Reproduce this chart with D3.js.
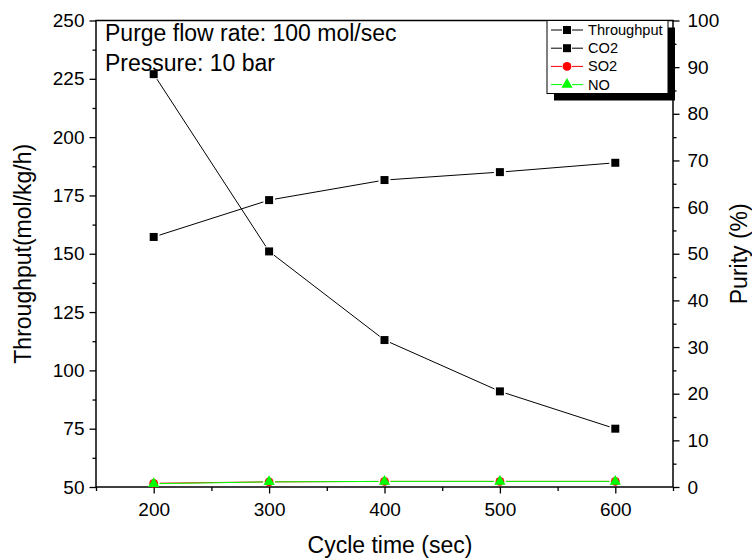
<!DOCTYPE html>
<html><head><meta charset="utf-8">
<script src="https://cdn.jsdelivr.net/npm/d3@7"></script>
<style>
html,body{margin:0;padding:0;background:#fff;}
svg{display:block;font-family:"Liberation Sans",Arial,sans-serif;}
</style></head>
<body><svg id="c" width="752" height="560"></svg>
<script>
const cycleTimes = [200, 300, 400, 500, 600];
const throughput = [227, 151, 113, 91, 75];
const co2Purity = [53.6, 61.5, 65.8, 67.5, 69.5];
const so2Purity = [0.8, 1.1, 1.2, 1.2, 1.2];
const noPurity = [0.7, 1.1, 1.2, 1.2, 1.2];
const leftTicks = [50, 75, 100, 125, 150, 175, 200, 225, 250];
const rightTicks = [0, 10, 20, 30, 40, 50, 60, 70, 80, 90, 100];
const xTicks = [200, 300, 400, 500, 600];
const annotations = ["Purge flow rate: 100 mol/sec", "Pressure: 10 bar"];
const legendNames = ["Throughput", "CO2", "SO2", "NO"];

const svg = d3.select("#c");
const L = 96, R = 673, T = 20.5, B = 487;
const x = d3.scaleLinear().domain([150, 650]).range([L, R]);
const yL = d3.scaleLinear().domain([50, 250]).range([B, T]);
const yR = d3.scaleLinear().domain([0, 100]).range([B, T]);

const tickFont = 19;
function styleAxis(g){
  g.select(".domain").remove();
  g.selectAll("line").attr("stroke","#000").attr("stroke-width",1.3);
  g.selectAll("text").attr("font-size",tickFont).attr("fill","#000").attr("font-family","Liberation Sans, Arial, sans-serif");
}
const leftMinor = leftTicks.slice(0,-1).map(v=>v+12.5);
const rightMinor = rightTicks.slice(0,-1).map(v=>v+5);
const xMinor = [150,250,350,450,550,650];

svg.append("g").attr("transform",`translate(${L},0)`).call(d3.axisLeft(yL).tickValues(leftMinor).tickSize(3.5).tickFormat("")).call(styleAxis);
svg.append("g").attr("transform",`translate(${L},0)`).call(d3.axisLeft(yL).tickValues(leftTicks).tickSize(6.5).tickPadding(5)).call(styleAxis);
svg.append("g").attr("transform",`translate(${R},0)`).call(d3.axisRight(yR).tickValues(rightMinor).tickSize(3.5).tickFormat("")).call(styleAxis);
svg.append("g").attr("transform",`translate(${R},0)`).call(d3.axisRight(yR).tickValues(rightTicks).tickSize(6.5).tickPadding(8)).call(styleAxis);
svg.append("g").attr("transform",`translate(0,${B})`).call(d3.axisBottom(x).tickValues(xMinor).tickSize(4).tickFormat("")).call(styleAxis);
svg.append("g").attr("transform",`translate(0,${B})`).call(d3.axisBottom(x).tickValues(xTicks).tickSize(6.5).tickPadding(9)).call(styleAxis);

svg.append("rect").attr("x",L).attr("y",T).attr("width",R-L).attr("height",B-T)
  .attr("fill","none").attr("stroke","#000").attr("stroke-width",1.5);

svg.append("text").attr("x",390).attr("y",553).attr("text-anchor","middle").attr("font-size",23).text("Cycle time (sec)");
svg.append("text").attr("transform",`translate(31,${(T+B)/2}) rotate(-90)`).attr("text-anchor","middle").attr("font-size",23).text("Throughput(mol/kg/h)");
svg.append("text").attr("transform",`translate(747,${(T+B)/2}) rotate(-90)`).attr("text-anchor","middle").attr("font-size",23).text("Purity (%)");

annotations.forEach((t,i)=>{
  svg.append("text").attr("x",105).attr("y",41+i*30).attr("font-size",23).text(t);
});

function gapLine(pts, color, gap){
  const g = svg.append("g");
  for(let i=0;i<pts.length-1;i++){
    const [x1,y1]=pts[i],[x2,y2]=pts[i+1];
    const dx=x2-x1, dy=y2-y1, len=Math.hypot(dx,dy);
    if(len<=2*gap) continue;
    const ux=dx/len, uy=dy/len;
    g.append("line").attr("x1",x1+ux*gap).attr("y1",y1+uy*gap).attr("x2",x2-ux*gap).attr("y2",y2-uy*gap)
      .attr("stroke",color).attr("stroke-width",1);
  }
}
const sq = d3.symbol().type(d3.symbolSquare).size(64);
const ci = d3.symbol().type(d3.symbolCircle).size(60);
const tri = d3.symbol().type(d3.symbolTriangle).size(55);

const series = [
  {vals: throughput, y: yL, color:"#000", sym: sq, fill:"#000"},
  {vals: co2Purity, y: yR, color:"#000", sym: sq, fill:"#000"},
  {vals: so2Purity, y: yR, color:"#ff0000", sym: ci, fill:"#ff0000"},
  {vals: noPurity, y: yR, color:"#00ff00", sym: tri, fill:"#00ff00"}
];
series.forEach(s=>{
  const pts = cycleTimes.map((c,i)=>[x(c), s.y(s.vals[i])]);
  gapLine(pts, s.color, 6);
});
series.forEach(s=>{
  svg.append("g").selectAll("path").data(cycleTimes).join("path")
    .attr("transform",(c,i)=>`translate(${x(c)},${s.y(s.vals[i])})`)
    .attr("d",s.sym()).attr("fill",s.fill);
});

const lx=547, ly=20.5, lw=121, lh=73;
svg.append("rect").attr("x",lx+7).attr("y",ly+7).attr("width",lw).attr("height",lh).attr("fill","#000");
svg.append("rect").attr("x",lx).attr("y",ly).attr("width",lw).attr("height",lh).attr("fill","#fff").attr("stroke","#000").attr("stroke-width",1);
legendNames.forEach((n,i)=>{
  const s = series[i];
  const cy = 30 + i*18.2;
  svg.append("line").attr("x1",lx+4).attr("x2",lx+15).attr("y1",cy).attr("y2",cy).attr("stroke",s.color).attr("stroke-width",1);
  svg.append("line").attr("x1",lx+25).attr("x2",lx+36).attr("y1",cy).attr("y2",cy).attr("stroke",s.color).attr("stroke-width",1);
  svg.append("path").attr("transform",`translate(${lx+20},${cy})`).attr("d",s.sym()).attr("fill",s.fill);
  svg.append("text").attr("x",lx+41).attr("y",cy+5).attr("font-size",14.6).text(n);
});
</script></body></html>
